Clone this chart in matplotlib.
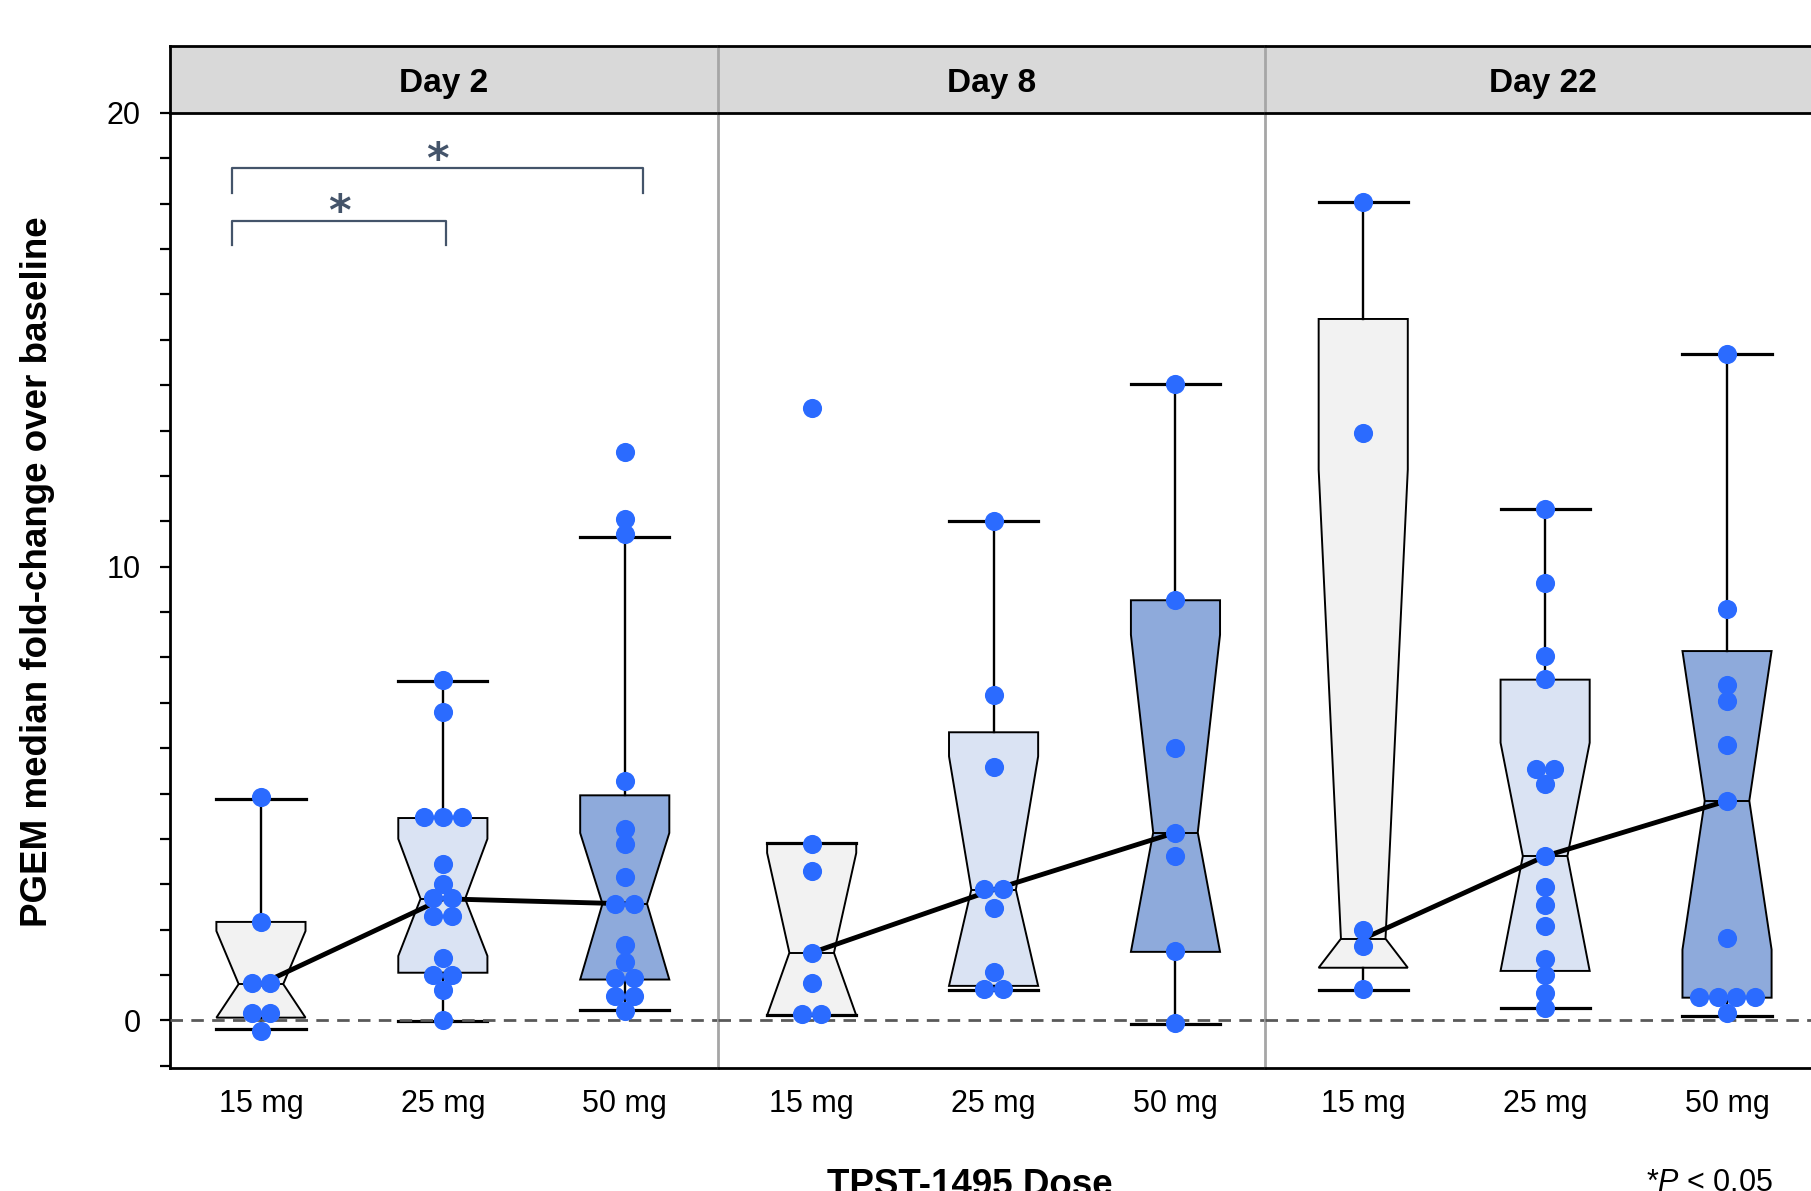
import numpy as np
import matplotlib
matplotlib.use("Agg")
import matplotlib.pyplot as plt
from matplotlib.ticker import MultipleLocator

plt.rcParams["font.family"] = ["Liberation Sans", "DejaVu Sans"]
plt.rcParams["mathtext.fontset"] = "custom"
plt.rcParams["mathtext.it"] = "Liberation Sans:italic"
plt.rcParams["mathtext.rm"] = "Liberation Sans"

DAYS = ["Day 2", "Day 8", "Day 22"]
DOSES = ["15 mg", "25 mg", "50 mg"]
BOX_COLORS = ["#f2f2f2", "#dae3f3", "#8eaadb"]
DOT_COLOR = "#2b6bff"
SIG_COLOR = "#44546a"

# individual values (fold-change), per day and dose
d2_15 = [4.92, 2.17, 0.83, 0.83, 0.17, 0.17, -0.24]
d2_25 = [7.50, 6.79, 4.48, 4.48, 4.48, 3.44, 3.00, 2.70, 2.70, 2.30, 2.30,
         1.38, 1.01, 1.01, 0.67, 0.00]
d2_50 = [12.52, 11.04, 10.71, 5.27, 4.21, 3.88, 3.16, 2.57, 2.57, 1.67, 1.28,
         0.94, 0.94, 0.54, 0.54, 0.20]
d8_15 = [13.50, 3.89, 3.29, 1.49, 0.83, 0.15, 0.15]
d8_25 = [11.00, 7.17, 5.58, 2.90, 2.90, 2.48, 1.06, 0.70, 0.70]
d8_50 = [14.03, 9.26, 6.00, 4.14, 3.63, 1.52, -0.05]
d22_15 = [18.03, 12.94, 2.00, 1.64, 0.69]
d22_25 = [11.27, 9.65, 8.04, 7.53, 5.54, 5.54, 5.20, 3.62, 2.94, 2.54, 2.08,
          1.36, 1.00, 0.61, 0.28]
d22_50 = [14.69, 9.07, 7.40, 7.03, 6.08, 4.84, 1.81, 0.52, 0.52, 0.52, 0.52, 0.17]
POINTS = [[d2_15, d2_25, d2_50], [d8_15, d8_25, d8_50], [d22_15, d22_25, d22_50]]

# box summaries as drawn in the figure (rows = day, cols = dose)
q1 = [[0.06, 1.05, 0.90], [0.11, 0.76, 1.51], [1.16, 1.09, 0.50]]
med = [[0.80, 2.68, 2.57], [1.49, 2.88, 4.14], [1.80, 3.62, 4.84]]
q3 = [[2.17, 4.46, 4.96], [3.91, 6.35, 9.26], [15.46, 7.51, 8.14]]
ci_lo = [[0.06, 1.42, 0.90], [0.11, 0.76, 1.51], [1.16, 1.09, 1.56]]
ci_hi = [[1.97, 4.00, 4.13], [3.69, 5.82, 8.50], [12.14, 6.12, 8.14]]
whis_lo = [[-0.20, -0.02, 0.23], [0.11, 0.67, -0.07], [0.68, 0.28, 0.10]]
whis_hi = [[4.87, 7.48, 10.66], [3.91, 11.00, 14.03], [18.03, 11.27, 14.69]]

# significance brackets on Day 2
br_x0 = [-0.16, -0.16]
br_x1 = [2.10, 1.02]
br_y = [18.78, 17.63]
br_leg = 0.54


def spread(vals, step=0.103):
    # equal values are laid side by side, the rest stay on the centre line
    vals = np.asarray(vals)
    xs = np.zeros(len(vals))
    for v in np.unique(vals):
        idx = np.where(vals == v)[0]
        xs[idx] = (np.arange(len(idx)) - (len(idx) - 1) / 2) * step
    return xs


W, H = 1811, 1191
fig = plt.figure(figsize=(W / 100, H / 100), dpi=100)
# panel edges in pixels; the last panel runs a little past the right edge
P_LEFT = [170, 718, 1265]
P_RIGHT = [718, 1265, 1820]
X_START = [-0.5, -0.515, -0.54]
UNIT_PX = 181.9
ybot = 1 - 1068 / H
ytop = 1 - 113 / H
stop = 1 - 46 / H
GRAY = "#a6a6a6"
pos = np.arange(3)

for i, day in enumerate(DAYS):
    l, r = P_LEFT[i] / W, P_RIGHT[i] / W
    ax = fig.add_axes([l, ybot, r - l, ytop - ybot])
    sax = fig.add_axes([l, ytop, r - l, stop - ytop])

    stats = []
    for j in range(3):
        stats.append(dict(med=med[i][j], q1=q1[i][j], q3=q3[i][j],
                          cilo=ci_lo[i][j], cihi=ci_hi[i][j],
                          whislo=whis_lo[i][j], whishi=whis_hi[i][j], fliers=[]))
    bp = ax.bxp(stats, positions=pos, widths=0.49, capwidths=0.49,
                shownotches=True, patch_artist=True, showfliers=False,
                manage_ticks=False,
                boxprops=dict(edgecolor="black", linewidth=1.4),
                whiskerprops=dict(color="black", linewidth=1.7),
                capprops=dict(color="black", linewidth=2.3),
                medianprops=dict(color="black", linewidth=1.4))
    for patch, c in zip(bp["boxes"], BOX_COLORS):
        patch.set_facecolor(c)

    ax.axhline(0, color="#595959", lw=2, ls=(0, (4.5, 3)), zorder=2.6)
    ax.plot(pos, med[i], color="black", lw=3.5, zorder=3)
    for j in range(3):
        vals = POINTS[i][j]
        ax.scatter(pos[j] + spread(vals), vals, s=190, color=DOT_COLOR,
                   linewidths=0, zorder=4)

    xl = X_START[i]
    ax.set_xlim(xl, xl + (P_RIGHT[i] - P_LEFT[i]) / UNIT_PX)
    ax.set_ylim(-1.05, 20)
    ax.set_xticks(pos, DOSES)
    ax.tick_params(axis="x", length=0, pad=15, labelsize=22)
    if i == 0:
        ax.set_yticks([0, 10, 20])
        ax.yaxis.set_minor_locator(MultipleLocator(1))
        ax.tick_params(axis="y", which="both", length=7, width=1.6, pad=14,
                       labelsize=22, direction="out")
    else:
        ax.tick_params(axis="y", which="both", left=False, labelleft=False)

    ax.spines["top"].set_visible(False)
    ax.spines["bottom"].set_linewidth(2)
    ax.spines["left"].set_color("black" if i == 0 else GRAY)
    ax.spines["left"].set_linewidth(2)
    if i < 2:
        ax.spines["right"].set_visible(False)
    else:
        ax.spines["right"].set_linewidth(2)

    sax.set_facecolor("#d9d9d9")
    sax.set_xticks([])
    sax.set_yticks([])
    sax.spines["top"].set_linewidth(2)
    sax.spines["bottom"].set_linewidth(2)
    sax.spines["left"].set_color("black" if i == 0 else GRAY)
    sax.spines["left"].set_linewidth(2)
    if i < 2:
        sax.spines["right"].set_visible(False)
    else:
        sax.spines["right"].set_linewidth(2)
    sax.text(0.5, 0.44, day, ha="center", va="center", fontsize=24,
             fontweight="bold", transform=sax.transAxes)

    if i == 0:
        for a, b, y in zip(br_x0, br_x1, br_y):
            ax.plot([a, a, b, b], [y - br_leg, y, y, y - br_leg], color=SIG_COLOR,
                    lw=1.6, solid_joinstyle="round", zorder=3)
            ax.text((a + b) / 2, y + 0.17, "*", color=SIG_COLOR, fontsize=31,
                    fontweight="bold", ha="center", va="center",
                    family="DejaVu Sans")

fig.text(38 / W, 1 - 572 / H, "PGEM median fold-change over baseline",
         rotation=90, ha="center", va="center", fontsize=26.5, fontweight="bold")
fig.text(970 / W, 1 - 1168 / H, "TPST-1495 Dose", ha="center", va="top",
         fontsize=26.5, fontweight="bold")
fig.text(1646 / W, 1 - 1168 / H, "*$P$ < 0.05", ha="left", va="top", fontsize=22)

fig.savefig("out.png", dpi=100)
